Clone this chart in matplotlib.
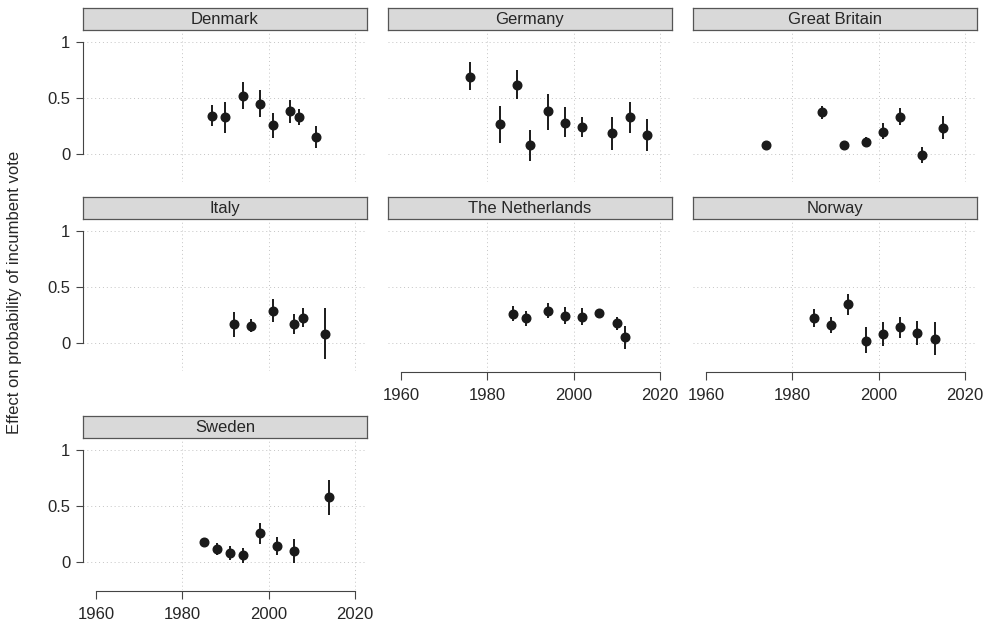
import matplotlib
matplotlib.use('Agg')
import matplotlib.pyplot as plt

# year, estimate, lower bound, upper bound per country
dk_year = [1987, 1990, 1994, 1998, 2001, 2005, 2007, 2011]
dk_est = [0.34, 0.33, 0.52, 0.45, 0.26, 0.38, 0.33, 0.15]
dk_lo = [0.25, 0.19, 0.40, 0.33, 0.14, 0.28, 0.26, 0.05]
dk_hi = [0.44, 0.46, 0.64, 0.57, 0.37, 0.48, 0.40, 0.25]

de_year = [1976, 1983, 1987, 1990, 1994, 1998, 2002, 2009, 2013, 2017]
de_est = [0.69, 0.27, 0.62, 0.08, 0.38, 0.28, 0.24, 0.19, 0.33, 0.17]
de_lo = [0.57, 0.10, 0.49, -0.06, 0.21, 0.15, 0.15, 0.04, 0.19, 0.03]
de_hi = [0.82, 0.43, 0.75, 0.21, 0.54, 0.42, 0.33, 0.33, 0.46, 0.31]

gb_year = [1974, 1987, 1992, 1997, 2001, 2005, 2010, 2015]
gb_est = [0.08, 0.375, 0.08, 0.11, 0.20, 0.33, -0.01, 0.235]
gb_lo = [0.05, 0.315, 0.05, 0.07, 0.13, 0.26, -0.08, 0.13]
gb_hi = [0.11, 0.43, 0.11, 0.15, 0.28, 0.41, 0.065, 0.34]

it_year = [1992, 1996, 2001, 2006, 2008, 2013]
it_est = [0.17, 0.15, 0.29, 0.17, 0.22, 0.08]
it_lo = [0.05, 0.10, 0.19, 0.08, 0.14, -0.14]
it_hi = [0.28, 0.21, 0.39, 0.26, 0.31, 0.31]

nl_year = [1986, 1989, 1994, 1998, 2002, 2006, 2010, 2012]
nl_est = [0.26, 0.22, 0.29, 0.245, 0.23, 0.27, 0.18, 0.05]
nl_lo = [0.20, 0.15, 0.22, 0.17, 0.16, 0.23, 0.12, -0.05]
nl_hi = [0.33, 0.29, 0.36, 0.32, 0.31, 0.30, 0.23, 0.15]

no_year = [1985, 1989, 1993, 1997, 2001, 2005, 2009, 2013]
no_est = [0.22, 0.16, 0.35, 0.02, 0.08, 0.14, 0.09, 0.04]
no_lo = [0.14, 0.09, 0.25, -0.09, -0.03, 0.045, -0.02, -0.11]
no_hi = [0.30, 0.23, 0.44, 0.14, 0.19, 0.23, 0.20, 0.19]

se_year = [1985, 1988, 1991, 1994, 1998, 2002, 2006, 2014]
se_est = [0.18, 0.12, 0.08, 0.06, 0.255, 0.14, 0.10, 0.58]
se_lo = [0.15, 0.06, 0.02, -0.01, 0.16, 0.06, -0.01, 0.42]
se_hi = [0.21, 0.17, 0.14, 0.125, 0.35, 0.22, 0.205, 0.73]

countries = ['Denmark', 'Germany', 'Great Britain', 'Italy',
             'The Netherlands', 'Norway', 'Sweden']
panels = [
    (dk_year, dk_est, dk_lo, dk_hi),
    (de_year, de_est, de_lo, de_hi),
    (gb_year, gb_est, gb_lo, gb_hi),
    (it_year, it_est, it_lo, it_hi),
    (nl_year, nl_est, nl_lo, nl_hi),
    (no_year, no_est, no_lo, no_hi),
    (se_year, se_est, se_lo, se_hi),
]

W, H = 987, 624
fig = plt.figure(figsize=(W / 100, H / 100), dpi=100)
plt.rcParams['font.family'] = ['Liberation Sans', 'DejaVu Sans']

col_left = [83, 388, 693]
row_top = [30, 219, 438]
pw, ph, sh = 284, 152, 22
txt = '#262626'
axc = '#444444'
fs = 12

for i, name in enumerate(countries):
    r, c = divmod(i, 3)
    left, top = col_left[c], row_top[r]
    ax = fig.add_axes([left / W, 1 - (top + ph) / H, pw / W, ph / H])
    yr, est, lo, hi = panels[i]
    ax.vlines(yr, lo, hi, color='#1a1a1a', lw=1.4, zorder=3)
    ax.plot(yr, est, 'o', color='#1a1a1a', ms=6.2, zorder=4)
    ax.set_xlim(1957, 2022.8)
    ax.set_ylim(-0.25, 1.107)
    for g in [1980, 2000, 2020]:
        ax.axvline(g, color='#c4c4c4', lw=0.7, ls=(0, (1, 3)), zorder=1)
    for g in [0, 0.5, 1]:
        ax.axhline(g, color='#c4c4c4', lw=0.7, ls=(0, (1, 3)), zorder=1)
    for s in ['top', 'right']:
        ax.spines[s].set_visible(False)
    # y axis only in first column
    if c == 0:
        ax.spines['left'].set_bounds(0, 1)
        ax.spines['left'].set_color(axc)
        ax.set_yticks([0, 0.5, 1])
        ax.set_yticklabels(['0', '0.5', '1'])
        ax.tick_params(axis='y', length=5, color=axc, labelsize=fs,
                       labelcolor=txt, pad=4)
    else:
        ax.spines['left'].set_visible(False)
        ax.set_yticks([])
    # x axis only on bottom panels
    if name in ('The Netherlands', 'Norway', 'Sweden'):
        ax.spines['bottom'].set_bounds(1960, 2020)
        ax.spines['bottom'].set_position(('outward', 1))
        ax.spines['bottom'].set_color(axc)
        ax.set_xticks([1960, 1980, 2000, 2020])
        ax.tick_params(axis='x', length=6, color=axc, labelsize=fs,
                       labelcolor=txt, pad=5)
    else:
        ax.spines['bottom'].set_visible(False)
        ax.set_xticks([])
    ax.set_facecolor('none')

    # strip with panel name
    sax = fig.add_axes([left / W, 1 - top / H, pw / W, sh / H])
    sax.set_facecolor('#d9d9d9')
    sax.set_xticks([])
    sax.set_yticks([])
    for s in sax.spines.values():
        s.set_color('#555555')
        s.set_linewidth(0.9)
    sax.text(0.5, 0.48, name, ha='center', va='center', fontsize=fs,
             color=txt, transform=sax.transAxes)

fig.text(15 / W, 1 - 292 / H, 'Effect on probability of incumbent vote',
         rotation=90, ha='center', va='center', fontsize=fs, color=txt)

fig.savefig('out.png', dpi=100)
